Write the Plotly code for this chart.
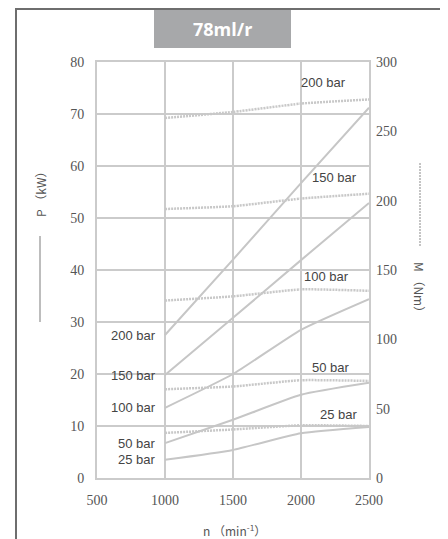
import plotly.graph_objects as go

# speed (min^-1)
rpm = [1000, 1500, 2000, 2500]

# power P (kW) per pressure, solid lines, left axis
p_200 = [27.5, 42.0, 56.7, 71.2]
p_150 = [19.8, 30.8, 41.9, 52.9]
p_100 = [13.5, 20.0, 28.5, 34.4]
p_50 = [6.7, 11.2, 16.0, 18.3]
p_25 = [3.5, 5.4, 8.6, 9.8]

# torque M (Nm) per pressure, dotted lines, right axis
m_200 = [259.6, 264.0, 270.0, 273.0]
m_150 = [194.0, 196.0, 201.5, 205.0]
m_100 = [128.0, 131.0, 136.0, 135.0]
m_50 = [64.0, 66.0, 70.5, 70.0]
m_25 = [32.5, 35.0, 38.0, 37.5]

pressures = ["200 bar", "150 bar", "100 bar", "50 bar", "25 bar"]
power = [p_200, p_150, p_100, p_50, p_25]
torque = [m_200, m_150, m_100, m_50, m_25]

x_ticks = [500, 1000, 1500, 2000, 2500]
p_ticks = [0, 10, 20, 30, 40, 50, 60, 70, 80]
m_ticks = [0, 50, 100, 150, 200, 250, 300]

# page body has an 8px margin, so the figure is 8px smaller than the window
OFF = 8
W, H = 448 - OFF, 539 - OFF
# plot area in window pixels
L, R, T, B = 97, 369, 62, 478


def px(x):
    return (x - L) / (R - L)


def py(y):
    return (B - y) / (B - T)


GRID = "#cbcbcb"
LINE = "#c6c6c6"
TXT = "#555555"

fig = go.Figure()

for name, vals in zip(pressures, power):
    fig.add_trace(go.Scatter(
        x=rpm, y=vals, mode="lines", name=name + " P",
        line=dict(color=LINE, width=2, shape="spline", smoothing=0.5),
        showlegend=False,
    ))

for name, vals in zip(pressures, torque):
    fig.add_trace(go.Scatter(
        x=rpm, y=vals, mode="lines", name=name + " M", yaxis="y2",
        line=dict(color="#c8c8c8", width=2.5, dash="2px,1px", shape="spline", smoothing=0.5),
        showlegend=False,
    ))

tick_font = dict(family="Liberation Serif, serif", size=14, color=TXT)
lbl_font = dict(family="Liberation Sans", size=13, color="#444444")

annotations = []
# labels at start of curves (left side)
for name, vals in zip(pressures, power):
    annotations.append(dict(x=945, y=vals[0], xref="x", yref="y", text=name,
                            showarrow=False, xanchor="right", yanchor="middle", font=lbl_font))
# labels on the right side
for name, (lx, ly) in zip(pressures, [(2162, 76), (2246, 57.7), (2188, 38.7), (2224, 21.3), (2279, 12.3)]):
    annotations.append(dict(x=lx, y=ly, xref="x", yref="y", text=name,
                            showarrow=False, xanchor="center", yanchor="middle", font=lbl_font))

title_font = dict(family="Noto Sans CJK SC", size=12, color=TXT)
annotations += [
    dict(x=px(40), y=py(192), xref="paper", yref="paper", text="P （kW）", textangle=-90,
         showarrow=False, xanchor="center", yanchor="middle", font=title_font),
    dict(x=px(420), y=py(290), xref="paper", yref="paper", text="M （Nm）", textangle=90,
         showarrow=False, xanchor="center", yanchor="middle", font=title_font),
    dict(x=px(234), y=py(530), xref="paper", yref="paper", text="n （min<sup>-1</sup>）",
         showarrow=False, xanchor="center", yanchor="middle", font=title_font),
    dict(x=px(222.5), y=py(29), xref="paper", yref="paper", text="<b>78ml/r</b>",
         showarrow=False, xanchor="center", yanchor="middle",
         font=dict(family="Open Sans", size=18, color="white")),
]

shapes = [
    # title box
    dict(type="rect", xref="paper", yref="paper", x0=px(154), x1=px(291), y0=py(9), y1=py(48),
         fillcolor="#a7a8aa", line=dict(width=0), layer="below"),
    # axis title key lines
    dict(type="line", xref="paper", yref="paper", x0=px(40), x1=px(40), y0=py(236), y1=py(322),
         line=dict(color="#bdbdbd", width=2)),
    dict(type="line", xref="paper", yref="paper", x0=px(420), x1=px(420), y0=py(163), y1=py(247),
         line=dict(color="#c4c4c4", width=2, dash="2px,1px")),
    # outer frame
    dict(type="rect", xref="paper", yref="paper", x0=px(16), x1=px(443), y0=py(9), y1=py(560),
         line=dict(color="#6e6e6e", width=2), fillcolor="rgba(0,0,0,0)"),
]

fig.update_layout(
    width=W, height=H,
    margin=dict(l=L - OFF, r=448 - R, t=T - OFF, b=539 - B),
    paper_bgcolor="white", plot_bgcolor="white",
    xaxis=dict(range=[500, 2500], tickvals=x_ticks, showgrid=True, gridcolor=GRID, gridwidth=2,
               showline=True, mirror=True, linecolor=GRID, linewidth=2, zeroline=False,
               ticks="", tickfont=tick_font, ticklabelstandoff=8),
    yaxis=dict(range=[0, 80], tickvals=p_ticks, showgrid=True, gridcolor=GRID, gridwidth=2,
               showline=True, mirror=True, linecolor=GRID, linewidth=2, zeroline=False,
               ticks="", tickfont=tick_font, ticklabelstandoff=8),
    yaxis2=dict(range=[0, 300], tickvals=m_ticks, overlaying="y", side="right", showgrid=False,
                zeroline=False, showline=False, ticks="", tickfont=tick_font, ticklabelstandoff=6),
    annotations=annotations,
    shapes=shapes,
    showlegend=False,
)

fig.write_html("out.html")
